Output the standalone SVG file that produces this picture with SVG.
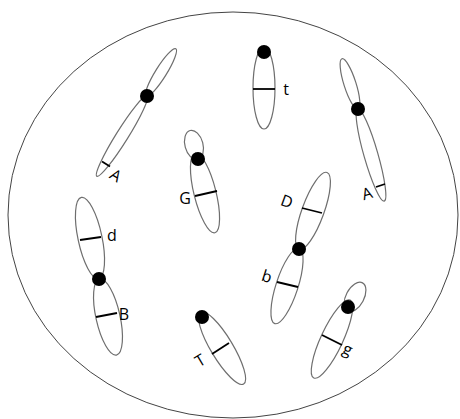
<svg xmlns="http://www.w3.org/2000/svg" width="460" height="419" viewBox="0 0 460 419">
<style>
.arm{fill:#fff;stroke:#6e6e6e;stroke-width:1.2}
.cen{fill:#000}
.loc{stroke:#000;stroke-width:1.8}
.lbl{font-family:"Open Sans","Liberation Sans",sans-serif;font-size:16px;fill:#000;text-anchor:middle;dominant-baseline:central}
.cell{fill:#fff;stroke:#444;stroke-width:1}
</style>
<rect width="460" height="419" fill="#fff"/>
<ellipse id="cell" class="cell" cx="233" cy="215" rx="225" ry="203"/>
<g id="chrA1">
<ellipse class="arm" cx="161" cy="72.5" rx="5.5" ry="28" transform="rotate(32 161 72.5)"/>
<ellipse class="arm" cx="122" cy="136" rx="6" ry="47.5" transform="rotate(32 122 136)"/>
<circle class="cen" cx="147" cy="96" r="7"/>
<line class="loc" x1="102" y1="161.5" x2="110" y2="166.5"/>
<text class="lbl" x="116" y="175" transform="rotate(32 116 175)">A</text>
</g>
<g id="chrG">
<ellipse class="arm" cx="194" cy="145" rx="9" ry="15" transform="rotate(-15 194 145)"/>
<ellipse class="arm" cx="205" cy="193" rx="11" ry="41" transform="rotate(-14 205 193)"/>
<circle class="cen" cx="198" cy="159" r="7"/>
<line class="loc" x1="195" y1="196" x2="217" y2="191"/>
<text class="lbl" x="185" y="198">G</text>
</g>
<g id="chrt">
<ellipse class="arm" cx="264" cy="88" rx="11" ry="41"/>
<circle class="cen" cx="264" cy="52" r="7"/>
<line class="loc" x1="253" y1="89" x2="275" y2="89"/>
<text class="lbl" x="286" y="89">t</text>
</g>
<g id="chrA2">
<ellipse class="arm" cx="350" cy="84" rx="6" ry="26.5" transform="rotate(-17.7 350 84)"/>
<ellipse class="arm" cx="371" cy="155" rx="7" ry="48" transform="rotate(-16 371 155)"/>
<circle class="cen" cx="358" cy="109" r="7"/>
<line class="loc" x1="376" y1="187" x2="385" y2="184"/>
<text class="lbl" x="367" y="193" transform="rotate(-16 367 193)">A</text>
</g>
<g id="chrDb">
<ellipse class="arm" cx="313" cy="211" rx="11" ry="41" transform="rotate(20 313 211)"/>
<ellipse class="arm" cx="287" cy="286" rx="11" ry="39.5" transform="rotate(18 287 286)"/>
<circle class="cen" cx="299" cy="249" r="7"/>
<line class="loc" x1="302" y1="208" x2="322" y2="213"/>
<line class="loc" x1="277" y1="282" x2="298" y2="287"/>
<text class="lbl" x="287" y="201" transform="rotate(20 287 201)">D</text>
<text class="lbl" x="267" y="276" transform="rotate(18 267 276)">b</text>
</g>
<g id="chrg">
<ellipse class="arm" cx="355" cy="297" rx="9" ry="16" transform="rotate(28 355 297)"/>
<ellipse class="arm" cx="332" cy="339" rx="11" ry="43" transform="rotate(25 332 339)"/>
<circle class="cen" cx="348" cy="307" r="7"/>
<line class="loc" x1="322" y1="335" x2="342" y2="345"/>
<text class="lbl" x="348" y="349" transform="rotate(25 348 349)">g</text>
</g>
<g id="chrdB">
<ellipse class="arm" cx="90" cy="238" rx="12" ry="41.5" transform="rotate(-12 90 238)"/>
<ellipse class="arm" cx="108" cy="317" rx="12" ry="39" transform="rotate(-12.6 108 317)"/>
<circle class="cen" cx="99" cy="279" r="7"/>
<line class="loc" x1="80" y1="240" x2="101" y2="237"/>
<line class="loc" x1="96" y1="317" x2="117" y2="313"/>
<text class="lbl" x="112" y="235">d</text>
<text class="lbl" x="124" y="314">B</text>
</g>
<g id="chrT">
<ellipse class="arm" cx="222" cy="348" rx="11" ry="42" transform="rotate(-31 222 348)"/>
<circle class="cen" cx="202" cy="317" r="7"/>
<line class="loc" x1="212" y1="354" x2="229" y2="343"/>
<text class="lbl" x="200" y="360" transform="rotate(-31 200 360)">T</text>
</g>
<g id="connectors"></g>
</svg>
